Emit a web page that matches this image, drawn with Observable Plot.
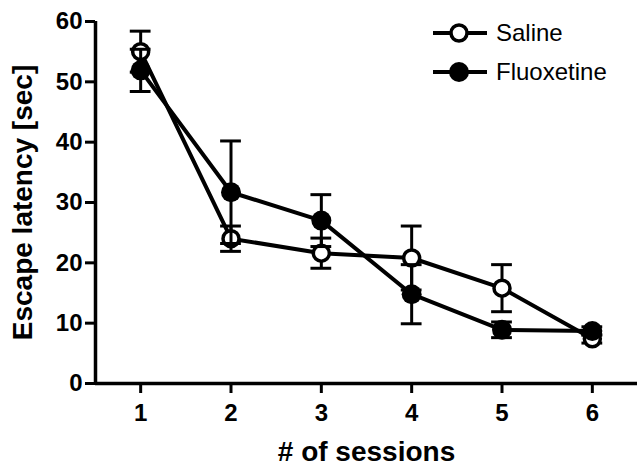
<!DOCTYPE html>
<html>
<head>
<meta charset="utf-8">
<script src="https://cdn.jsdelivr.net/npm/d3@7"></script>
<script src="https://cdn.jsdelivr.net/npm/@observablehq/plot@0.6"></script>
<style>
  body { margin: 0; background: #fff; }
  #wrap { position: relative; width: 639px; height: 467px; font-family: "Liberation Sans", Arial, sans-serif; }
  #wrap svg { display: block; }
  g[aria-label="y-axis label"] { font-size: 28px; }
  g[aria-label="x-axis label"] { font-size: 28px; }
  .legend { position: absolute; left: 432px; top: 13px; font-size: 24px; line-height: 39px; color: #000; }
  .legend div { display: flex; align-items: center; height: 39px; }
  .legend svg { margin-right: 8px; }
</style>
</head>
<body>
<div id="wrap"></div>
<script>
const sessions = [1, 2, 3, 4, 5, 6];
const salineMean = [55.0, 24.0, 21.6, 20.8, 15.8, 7.4];
const salineErr  = [3.4, 2.1, 2.5, 5.3, 3.9, 0.7];
const fluoxMean  = [51.9, 31.7, 27.0, 14.8, 8.9, 8.7];
const fluoxErr   = [3.5, 8.5, 4.3, 4.9, 1.3, 0.7];
const seriesNames = ["Saline", "Fluoxetine"];
const xTicks = [1, 2, 3, 4, 5, 6];
const yTicks = [0, 10, 20, 30, 40, 50, 60];

const rows = (means, errs, name) => sessions.map((s, i) => ({
  session: s, mean: means[i], lo: means[i] - errs[i], hi: means[i] + errs[i], group: name
}));
const saline = rows(salineMean, salineErr, seriesNames[0]);
const fluox = rows(fluoxMean, fluoxErr, seriesNames[1]);

const capHalf = 0.115;
const errMarks = (data) => [
  Plot.ruleX(data, {x: "session", y1: "lo", y2: "hi", stroke: "#000", strokeWidth: 3}),
  Plot.ruleY(data, {y: "hi", x1: d => d.session - capHalf, x2: d => d.session + capHalf, stroke: "#000", strokeWidth: 3}),
  Plot.ruleY(data, {y: "lo", x1: d => d.session - capHalf, x2: d => d.session + capHalf, stroke: "#000", strokeWidth: 3})
];

const chart = Plot.plot({
  width: 639,
  height: 467,
  marginLeft: 95,
  marginRight: 2,
  marginTop: 21,
  marginBottom: 84,
  style: {fontFamily: '"Liberation Sans", Arial, sans-serif', color: "#000", background: "#fff"},
  x: {domain: [0.5, 6.5]},
  y: {domain: [0, 60]},
  marks: [
    Plot.axisY(yTicks, {tickSize: 10, tickPadding: 3, strokeWidth: 3, fontSize: 24, fontWeight: "bold",
      label: "Escape latency [sec]", labelAnchor: "center", labelArrow: "none", labelOffset: 83}),
    Plot.axisX(xTicks, {tickSize: 10, tickPadding: 10, strokeWidth: 3, fontSize: 24, fontWeight: "bold",
      label: "# of sessions", labelAnchor: "center", labelArrow: "none", labelOffset: 77}),
    Plot.ruleX([0.5], {stroke: "#000", strokeWidth: 3.5}),
    Plot.ruleY([0], {stroke: "#000", strokeWidth: 3.5}),
    ...errMarks(saline),
    Plot.line(saline, {x: "session", y: "mean", stroke: "#000", strokeWidth: 4}),
    Plot.dot(saline, {x: "session", y: "mean", r: 8, fill: "#fff", stroke: "#000", strokeWidth: 3.5}),
    ...errMarks(fluox),
    Plot.line(fluox, {x: "session", y: "mean", stroke: "#000", strokeWidth: 4}),
    Plot.dot(fluox, {x: "session", y: "mean", r: 10, fill: "#000", stroke: "none"})
  ]
});
const wrap = document.getElementById("wrap");
wrap.appendChild(chart);

const legend = document.createElement("div");
legend.className = "legend";
seriesNames.forEach((name, i) => {
  const row = document.createElement("div");
  const filled = i === 1;
  row.innerHTML = `<svg width="56" height="22" viewBox="0 0 56 22">
    <line x1="1" x2="55" y1="11" y2="11" stroke="#000" stroke-width="4"/>
    <circle cx="27" cy="11" r="${filled ? 10 : 8}" fill="${filled ? "#000" : "#fff"}" stroke="${filled ? "none" : "#000"}" stroke-width="3.5"/>
  </svg><span>${name}</span>`;
  legend.appendChild(row);
});
wrap.appendChild(legend);
</script>
</body>
</html>
